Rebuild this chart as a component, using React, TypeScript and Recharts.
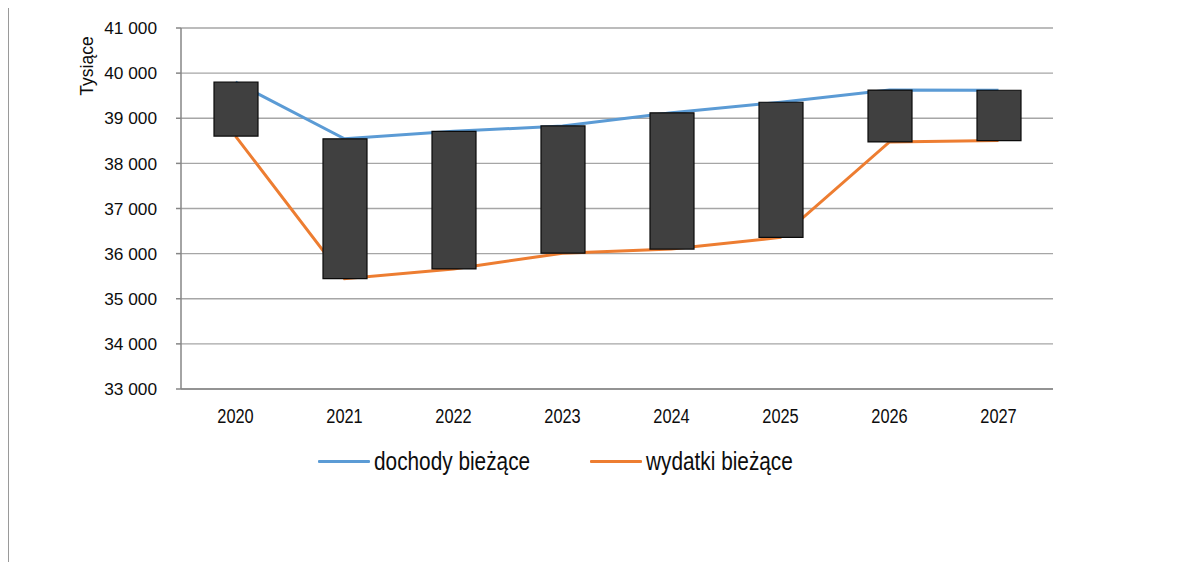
import React from 'react';
import {
  ComposedChart,
  Bar,
  Line,
  XAxis,
  YAxis,
  CartesianGrid,
  Legend,
} from 'recharts';

const years = ['2020', '2021', '2022', '2023', '2024', '2025', '2026', '2027'];
const dochody = [39800, 38545, 38710, 38830, 39120, 39355, 39625, 39620];
const wydatki = [38605, 35445, 35660, 36010, 36100, 36360, 38475, 38505];
const yTicks = [33000, 34000, 35000, 36000, 37000, 38000, 39000, 40000, 41000];
const seriesNames = { doch: 'dochody bieżące', wyd: 'wydatki bieżące' };
const yLabel = 'Tysiące';

const data = years.map((y, i) => ({
  year: y,
  doch: dochody[i],
  wyd: wydatki[i],
  range: [wydatki[i], dochody[i]],
}));

const edgeTicks = years.map((_, i) => i).concat(years.length);

const FONT = '"Liberation Sans", Arial, sans-serif';
const TEXT = '#0d0d0d';
const fmt = (v: number) => String(v).replace(/\B(?=(\d{3})+(?!\d))/g, ' ');

const LegendContent = (props: any) => {
  const items = (props.payload || []).filter((p: any) => p.type !== 'none');
  return (
    <div style={{ display: 'flex', alignItems: 'center', fontFamily: FONT, fontSize: 26, color: TEXT, whiteSpace: 'nowrap' }}>
      {items.map((p: any, i: number) => (
        <div key={i} style={{ display: 'flex', alignItems: 'center', marginLeft: i === 0 ? 0 : 61 }}>
          <span style={{ display: 'inline-block', width: 52, height: 3, background: p.color, marginRight: 4, borderRadius: 1 }} />
          <span style={{ display: 'inline-block', width: i === 0 ? 155 : 147, overflow: 'visible' }}>
            <span style={{ display: 'inline-block', transform: 'scaleX(0.8)', transformOrigin: 'left center' }}>{p.value}</span>
          </span>
        </div>
      ))}
    </div>
  );
};

const XTick = (props: any) => {
  const { x, y, payload } = props;
  return (
    <g transform={`translate(${x},${y})`}>
      <text transform="scale(0.78,1)" textAnchor="middle" dy="0.68em" fontSize={21} fontFamily={FONT} fill={TEXT}>
        {payload.value}
      </text>
    </g>
  );
};

const YTick = (props: any) => {
  const { x, y, payload } = props;
  return (
    <text x={x} y={y} dy="0.355em" textAnchor="end" fontSize={17.3} fontFamily={FONT} fill={TEXT}>
      {fmt(payload.value)}
    </text>
  );
};

const YLabel = (props: any) => {
  const vb = props.viewBox || {};
  const cx = vb.x + 6;
  const cy = vb.y + 38;
  return (
    <text
      x={cx}
      y={cy}
      transform={`rotate(-90 ${cx} ${cy})`}
      textAnchor="middle"
      dominantBaseline="central"
      fontFamily={FONT}
      fontSize={17.5}
      fill={TEXT}
    >
      {yLabel}
    </text>
  );
};

export default function App() {
  return (
    <div
      style={{
        marginTop: -2,
        width: 1174,
        height: 556,
        borderLeft: '1px solid #9a9a9a',
        borderTop: '1px solid #9a9a9a',
        background: '#fff',
      }}
    >
      <ComposedChart
        width={1173}
        height={555}
        data={data}
        margin={{ top: 21, left: 72, right: 129, bottom: 142 }}
        style={{ fontFamily: FONT }}
      >
        <CartesianGrid vertical={false} stroke="#a6a6a6" strokeWidth={1.3} />
        <XAxis
          xAxisId="b"
          dataKey="year"
          axisLine={false}
          tickLine={false}
          tickSize={5}
          tickMargin={14}
          height={30}
          tick={<XTick />}
        />
        <XAxis
          xAxisId="a"
          type="number"
          domain={[0, years.length]}
          ticks={edgeTicks}
          allowDataOverflow
          tick={false}
          height={1}
          stroke="#868686"
          strokeWidth={1.5}
          tickSize={5}
        />
        <YAxis
          width={100}
          domain={[33000, 41000]}
          ticks={yTicks}
          allowDataOverflow
          stroke="#868686"
          strokeWidth={1.5}
          axisLine={{ stroke: '#868686', strokeWidth: 1.5 }}
          tickSize={5}
          tickMargin={19}
          tick={<YTick />}
          label={{ content: <YLabel /> }}
        />
        <Line
          xAxisId="b"
          dataKey="doch"
          name={seriesNames.doch}
          stroke="#5b9bd5"
          strokeWidth={3}
          dot={false}
          activeDot={false}
          isAnimationActive={false}
          zIndex={200}
        />
        <Line
          xAxisId="b"
          dataKey="wyd"
          name={seriesNames.wyd}
          stroke="#ed7d31"
          strokeWidth={3}
          dot={false}
          activeDot={false}
          isAnimationActive={false}
          zIndex={200}
        />
        <Bar
          xAxisId="b"
          dataKey="range"
          barSize={44}
          fill="#404040"
          stroke="#0a0a0a"
          strokeWidth={1.2}
          legendType="none"
          isAnimationActive={false}
          zIndex={300}
        />
        <Legend
          layout="horizontal"
          verticalAlign="middle"
          align="center"
          content={<LegendContent />}
          wrapperStyle={{ left: 309, top: 439, width: 'auto', height: 'auto' }}
        />
      </ComposedChart>
    </div>
  );
}
